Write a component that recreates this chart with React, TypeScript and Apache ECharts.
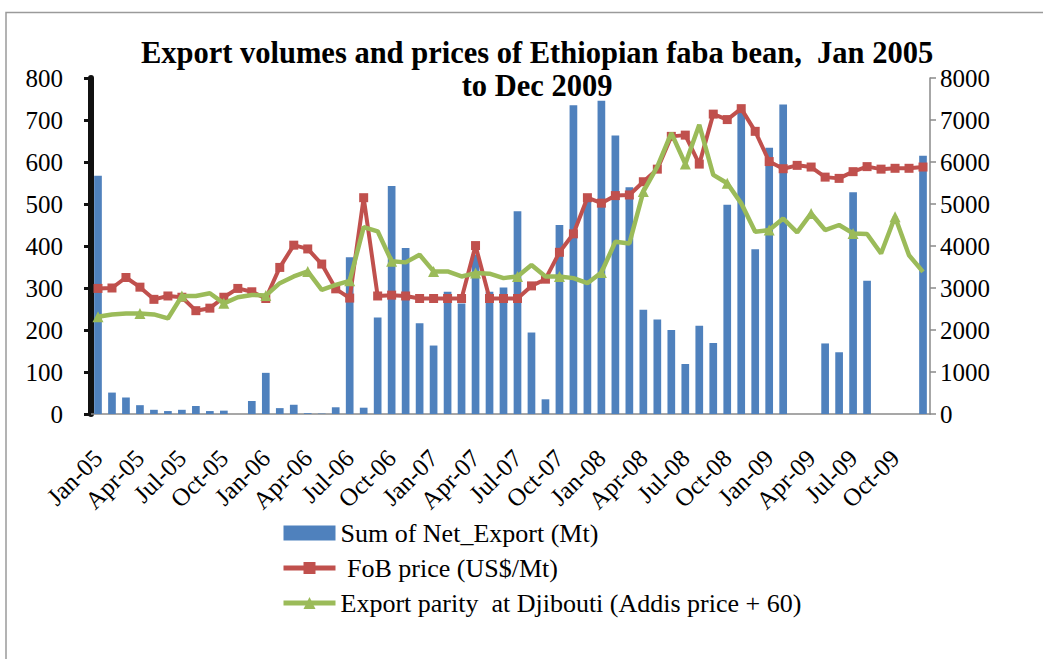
import React, { useEffect, useRef } from "react";
import * as echarts from "echarts";

const months = [
  "Jan-05","Feb-05","Mar-05","Apr-05","May-05","Jun-05","Jul-05","Aug-05","Sep-05","Oct-05","Nov-05","Dec-05",
  "Jan-06","Feb-06","Mar-06","Apr-06","May-06","Jun-06","Jul-06","Aug-06","Sep-06","Oct-06","Nov-06","Dec-06",
  "Jan-07","Feb-07","Mar-07","Apr-07","May-07","Jun-07","Jul-07","Aug-07","Sep-07","Oct-07","Nov-07","Dec-07",
  "Jan-08","Feb-08","Mar-08","Apr-08","May-08","Jun-08","Jul-08","Aug-08","Sep-08","Oct-08","Nov-08","Dec-08",
  "Jan-09","Feb-09","Mar-09","Apr-09","May-09","Jun-09","Jul-09","Aug-09","Sep-09","Oct-09","Nov-09","Dec-09",
];

const netExport = [
  567, 51, 39, 21, 10, 7, 10, 19, 7, 8, 0, 31,
  98, 14, 22, 2, 1, 16, 373, 15, 230, 543, 395, 216,
  163, 291, 263, 380, 291, 301, 483, 194, 35, 450, 735, 520,
  746, 663, 540, 248, 225, 200, 119, 210, 169, 498, 725, 392,
  634, 737, 0, 0, 168, 147, 528, 317, 0, 0, 0, 615,
];

const fobPrice = [
  2990, 3000, 3250, 3020, 2730, 2810, 2780, 2460, 2520, 2780, 2990, 2910,
  2750, 3490, 4020, 3930, 3570, 2980, 2760, 5150, 2810, 2830, 2810, 2750,
  2750, 2750, 2750, 4010, 2750, 2750, 2750, 3050, 3210, 3850, 4290, 5150,
  5020, 5200, 5215, 5530, 5830, 6610, 6640, 5950, 7140, 7010, 7270, 6730,
  6010, 5840, 5920, 5880, 5640, 5610, 5770, 5890, 5830, 5850, 5850, 5880,
];

const exportParity = [
  2315, 2370, 2395, 2395, 2370, 2275, 2810, 2810, 2875, 2635, 2780, 2835,
  2820, 3115, 3275, 3395, 2955, 3075, 3170, 4450, 4350, 3635, 3610, 3790,
  3395, 3395, 3275, 3355, 3340, 3235, 3275, 3550, 3275, 3275, 3235, 3115,
  3370, 4100, 4060, 5295, 5890, 6690, 5955, 6885, 5695, 5495, 5015, 4340,
  4380, 4655, 4325, 4775, 4380, 4500, 4300, 4285, 3820, 4695, 3780, 3385,
];

const leftTicks = { min: 0, max: 800, interval: 100 };
const rightTicks = { min: 0, max: 8000, interval: 1000 };

const FONT = "'Liberation Serif', 'Times New Roman', serif";

export default function App() {
  const ref = useRef<HTMLDivElement>(null);
  useEffect(() => {
    if (!ref.current) return;
    const chart = echarts.init(ref.current, undefined, { renderer: "svg" });
    chart.setOption({
      animation: false,
      backgroundColor: "#ffffff",
      title: {
        text: "Export volumes and prices of Ethiopian faba bean,  Jan 2005\nto Dec 2009",
        left: 532,
        top: 31,
        textAlign: "center",
        textStyle: {
          fontFamily: FONT,
          fontWeight: "bold",
          fontSize: 30.5,
          lineHeight: 33,
          color: "#000",
        },
      },
      graphic: [
        {
          type: "rect",
          shape: { x: 6, y: 12.5, width: 1100, height: 720 },
          style: { fill: "none", stroke: "#9a9a9a", lineWidth: 1.5 },
          silent: true,
          z: -10,
        },
      ],
      legend: {
        orient: "vertical",
        left: 276,
        top: 515,
        itemWidth: 52,
        itemHeight: 15,
        itemGap: 9,
        textStyle: { fontFamily: FONT, fontSize: 26, color: "#000" },
        data: [
          { name: "Sum of Net_Export (Mt)", icon: "rect" },
          { name: " FoB price (US$/Mt)", lineStyle: { width: 5 } },
          { name: "Export parity  at Djibouti (Addis price + 60)", lineStyle: { width: 5 } },
        ],
      },
      grid: { left: 91, right: 113, top: 78, bottom: 245, containLabel: false },
      xAxis: {
        type: "category",
        data: months,
        boundaryGap: true,
        axisLine: { show: true, lineStyle: { color: "#8a8a8a", width: 1.5 } },
        axisTick: { show: false },
        axisLabel: {
          interval: 2,
          rotate: 45,
          margin: 40,
          fontFamily: FONT,
          fontSize: 25,
          color: "#000",
        },
        splitLine: { show: false },
      },
      yAxis: [
        {
          type: "value",
          position: "left",
          ...leftTicks,
          axisLine: { show: true, lineStyle: { color: "#111", width: 6 } },
          axisTick: { show: true, inside: false, length: 7, lineStyle: { color: "#111", width: 3 } },
          axisLabel: { margin: 28, fontFamily: FONT, fontSize: 25, color: "#000" },
          splitLine: { show: false },
        },
        {
          type: "value",
          position: "right",
          ...rightTicks,
          axisLine: { show: true, lineStyle: { color: "#8a8a8a", width: 1.5 } },
          axisTick: { show: true, inside: false, length: 6, lineStyle: { color: "#8a8a8a", width: 1.5 } },
          axisLabel: {
            margin: 10,
            fontFamily: FONT,
            fontSize: 25,
            color: "#000",
            formatter: (v: number) => String(v),
          },
          splitLine: { show: false },
        },
      ],
      series: [
        {
          name: "Sum of Net_Export (Mt)",
          type: "bar",
          yAxisIndex: 0,
          data: netExport,
          barWidth: "55%",
          itemStyle: { color: "#4F81BD" },
          z: 1,
        },
        {
          name: " FoB price (US$/Mt)",
          type: "line",
          yAxisIndex: 1,
          data: fobPrice,
          symbol: "rect",
          symbolSize: 9,
          lineStyle: { color: "#C0504D", width: 4 },
          itemStyle: { color: "#C0504D" },
          z: 2,
        },
        {
          name: "Export parity  at Djibouti (Addis price + 60)",
          type: "line",
          yAxisIndex: 1,
          data: exportParity,
          symbol: "triangle",
          symbolSize: 11,
          lineStyle: { color: "#9BBB59", width: 4.5 },
          itemStyle: { color: "#9BBB59" },
          z: 3,
        },
      ],
    });
    return () => chart.dispose();
  }, []);
  return (
    <div
      ref={ref}
      style={{ position: "fixed", left: 0, top: 0, width: 1043, height: 659, background: "#fff" }}
    />
  );
}
